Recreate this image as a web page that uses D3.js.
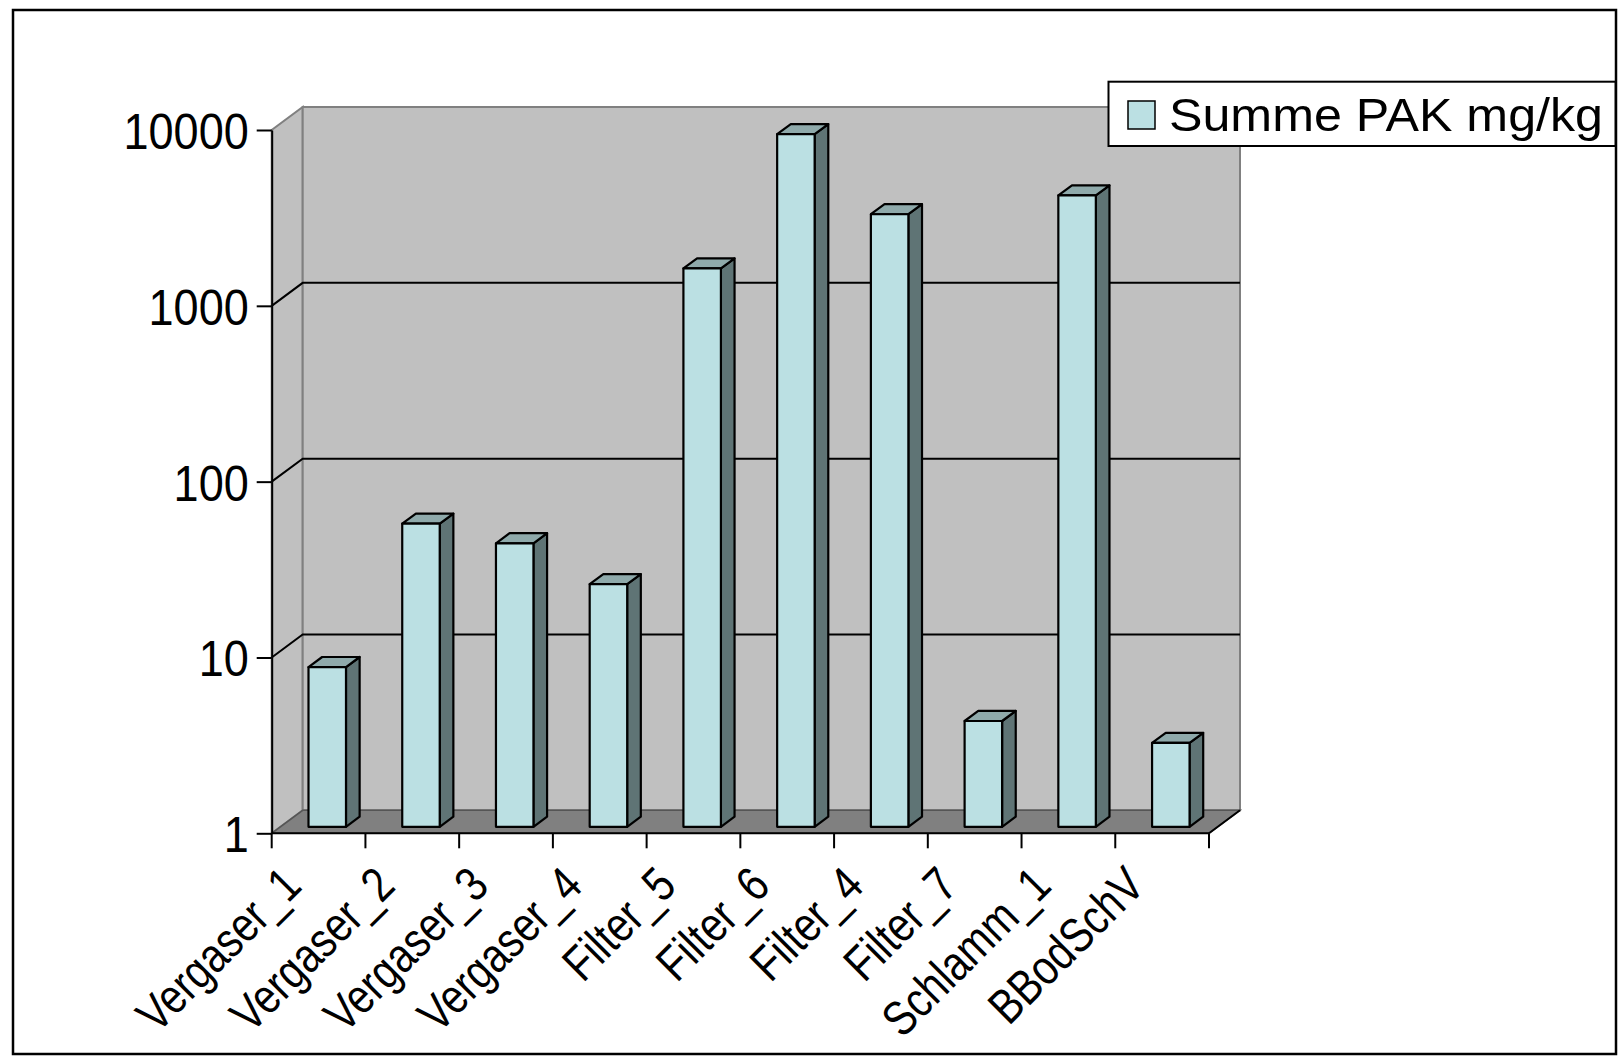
<!DOCTYPE html>
<html>
<head>
<meta charset="utf-8">
<script src="https://cdn.jsdelivr.net/npm/d3@7"></script>
<style>
  html, body { margin: 0; padding: 0; background: #fff; }
  svg { display: block; }
  text { font-family: "Liberation Sans", Arial, sans-serif; fill: #000; }
</style>
</head>
<body>
<svg id="chart" width="1619" height="1056"></svg>
<script>
// Sum of PAH (PAK) per sample, mg/kg, log scale
const categories = ["Vergaser_1", "Vergaser_2", "Vergaser_3", "Vergaser_4", "Filter_5",
                    "Filter_6", "Filter_4", "Filter_7", "Schlamm_1", "BBodSchV"];
const values = [8.1, 53, 41, 24, 1500, 8700, 3050, 4, 3900, 3];
const yTicks = [1, 10, 100, 1000, 10000];
const seriesName = "Summe PAK mg/kg";

const svg = d3.select("#chart");

// plot frame (front plane) and 3D depth offset
const x0 = 271.7, x1 = 1209, yBottom = 833.3, yTop = 130;
const DX = 31, DY = 23;
const barD0 = 0.28, barD1 = 0.72;

const x = d3.scaleBand().domain(categories).range([x0, x1]).padding(0);
const y = d3.scaleLog().domain([1, 10000]).range([yBottom, yTop]);

const proj = (px, v, d) => [px + d * DX, y(v) - d * DY];
const poly = pts => pts.map(p => p.join(",")).join(" ");

const colors = {
  wall: "#c0c0c0", wallEdge: "#808080", floor: "#808080",
  front: "#bbe0e3", side: "#5f7475", top: "#8faaab"
};

// outer chart border
svg.append("rect")
  .attr("x", 13).attr("y", 10).attr("width", 1603).attr("height", 1044)
  .attr("fill", "#fff").attr("stroke", "#000").attr("stroke-width", 2.5);

const [vMin, vMax] = y.domain();

// left side wall
svg.append("polygon")
  .attr("points", poly([proj(x0, vMin, 0), proj(x0, vMax, 0), proj(x0, vMax, 1), proj(x0, vMin, 1)]))
  .attr("fill", colors.wall).attr("stroke", colors.wallEdge).attr("stroke-width", 2);

// back wall
svg.append("polygon")
  .attr("points", poly([proj(x0, vMin, 1), proj(x0, vMax, 1), proj(x1, vMax, 1), proj(x1, vMin, 1)]))
  .attr("fill", colors.wall).attr("stroke", colors.wallEdge).attr("stroke-width", 2);

// floor
svg.append("polygon")
  .attr("points", poly([proj(x0, vMin, 0), proj(x1, vMin, 0), proj(x1, vMin, 1), proj(x0, vMin, 1)]))
  .attr("fill", colors.floor).attr("stroke", "#555").attr("stroke-width", 1.5);
svg.append("line")
  .attr("x1", proj(x1, vMin, 0)[0]).attr("y1", proj(x1, vMin, 0)[1])
  .attr("x2", proj(x1, vMin, 1)[0]).attr("y2", proj(x1, vMin, 1)[1])
  .attr("stroke", "#000").attr("stroke-width", 2);

// major gridlines: across side wall and back wall
const grid = svg.append("g").attr("stroke", "#000").attr("stroke-width", 2).attr("fill", "none");
yTicks.filter(v => v > vMin && v < vMax).forEach(v => {
  grid.append("polyline")
    .attr("points", poly([proj(x0, v, 0), proj(x0, v, 1), proj(x1, v, 1)]));
});

// bars as 3D boxes
const bw = x.bandwidth() * 0.4, boff = x.bandwidth() * 0.3;
const bars = svg.append("g").attr("stroke", "#000").attr("stroke-width", 2.2).attr("stroke-linejoin", "round");
categories.forEach((c, i) => {
  const v = values[i];
  const bl = x(c) + boff, br = bl + bw;
  const g = bars.append("g");
  g.append("polygon").attr("fill", colors.side)
    .attr("points", poly([proj(br, v, barD0), proj(br, v, barD1), proj(br, vMin, barD1), proj(br, vMin, barD0)]));
  g.append("polygon").attr("fill", colors.top)
    .attr("points", poly([proj(bl, v, barD0), proj(bl, v, barD1), proj(br, v, barD1), proj(br, v, barD0)]));
  g.append("polygon").attr("fill", colors.front)
    .attr("points", poly([proj(bl, v, barD0), proj(br, v, barD0), proj(br, vMin, barD0), proj(bl, vMin, barD0)]));
});

// value axis (labels drawn tall and narrow)
const yAxis = d3.axisLeft(y).tickValues(yTicks).tickFormat(d3.format("d"))
  .tickSizeInner(15).tickSizeOuter(0).tickPadding(8);
const gy = svg.append("g").attr("transform", `translate(${x0},0)`).call(yAxis);
gy.selectAll("path.domain").attr("stroke", "#000").attr("stroke-width", 2);
gy.selectAll(".tick line").attr("stroke", "#000").attr("stroke-width", 2);
gy.selectAll(".tick text")
  .style("font-family", "'Liberation Sans', Arial, sans-serif")
  .style("font-size", "45px").attr("fill", "#000").attr("dy", "0.37em")
  .each(function () {
    const len = this.getComputedTextLength();
    d3.select(this).style("font-size", "50px")
      .attr("textLength", len).attr("lengthAdjust", "spacingAndGlyphs");
  });

// category axis: baseline plus ticks at band boundaries
const gx = svg.append("g");
gx.append("line")
  .attr("x1", x0).attr("x2", x1).attr("y1", yBottom).attr("y2", yBottom)
  .attr("stroke", "#000").attr("stroke-width", 2);
const bounds = categories.map(c => x(c)).concat([x.range()[1]]);
gx.selectAll("line.tick").data(bounds).join("line").attr("class", "tick")
  .attr("x1", d => d).attr("x2", d => d)
  .attr("y1", yBottom).attr("y2", yBottom + 15)
  .attr("stroke", "#000").attr("stroke-width", 2);

gx.selectAll("text.cat").data(categories).join("text").attr("class", "cat")
  .attr("transform", c => `translate(${x(c) + x.bandwidth() / 2 - 15},888) rotate(-45)`)
  .attr("text-anchor", "end")
  .style("font-size", "45px")
  .text(c => c)
  .each(function () {
    const len = this.getComputedTextLength();
    d3.select(this).style("font-size", "49px")
      .attr("textLength", len * 0.9).attr("lengthAdjust", "spacingAndGlyphs");
  });

// legend
const lg = svg.append("g");
lg.append("rect")
  .attr("x", 1108.5).attr("y", 81.7).attr("width", 507).attr("height", 64.3)
  .attr("fill", "#fff").attr("stroke", "#000").attr("stroke-width", 2);
lg.append("rect")
  .attr("x", 1128).attr("y", 101).attr("width", 27).attr("height", 28)
  .attr("fill", colors.front).attr("stroke", "#000").attr("stroke-width", 1.5);
lg.append("text")
  .attr("x", 1169).attr("y", 130.5)
  .style("font-size", "46px")
  .attr("textLength", 434).attr("lengthAdjust", "spacingAndGlyphs")
  .text(seriesName);
</script>
</body>
</html>
